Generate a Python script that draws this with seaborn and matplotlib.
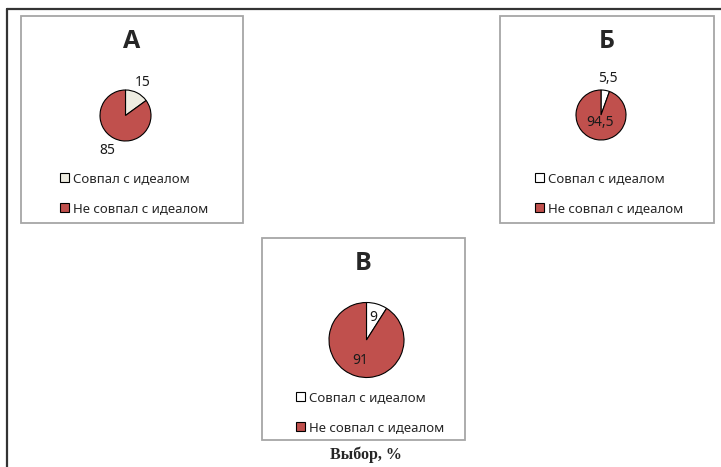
import numpy as np
import pandas as pd
import matplotlib
matplotlib.use("Agg")
import matplotlib.pyplot as plt
from matplotlib.patches import Rectangle
import seaborn as sns

# data
categories = ["Совпал с идеалом", "Не совпал с идеалом"]
panels = ["А", "Б", "В"]
values_a = [15, 85]
values_b = [5.5, 94.5]
values_v = [9, 91]
labels_a = ["15", "85"]
labels_b = ["5,5", "94,5"]
labels_v = ["9", "91"]
match_colors = ["#EEECE1", "#FFFFFF", "#FFFFFF"]
miss_color = "#C0504D"

sns.set_theme(style="white")
plt.rcParams["font.family"] = ["Noto Sans", "DejaVu Sans"]

W, H = 721, 467
fig = plt.figure(figsize=(W / 100, H / 100), dpi=100)


def fx(px):
    return px / W


def fy(py):
    return 1 - py / H


# outer frame (top and left only)
fig.add_artist(plt.Line2D([fx(7), fx(721)], [fy(9), fy(9)], color="#333333", lw=1.6))
fig.add_artist(plt.Line2D([fx(7), fx(7)], [fy(9), fy(467)], color="#333333", lw=1.6))

# layout of the three chart boxes (pixels)
layout = {
    "А": dict(box=(21, 16, 243, 223), center=(125.5, 115.5), r=25.5, title_y=42,
              leg=(60, 172), vals=values_a, labs=labels_a, rad=[1.45, 1.55], col=match_colors[0]),
    "Б": dict(box=(500, 16, 714, 223), center=(601, 115), r=25, title_y=42,
              leg=(535, 172), vals=values_b, labs=labels_b, rad=[1.5, 0.3], col=match_colors[1]),
    "В": dict(box=(262, 238, 465, 440), center=(366.5, 340), r=37.5, title_y=264,
              leg=(296, 391), vals=values_v, labs=labels_v, rad=[0.62, 0.58], col=match_colors[2]),
}

for name in panels:
    p = layout[name]
    x0, y0, x1, y1 = p["box"]
    fig.add_artist(Rectangle((fx(x0), fy(y1)), fx(x1 - x0), (y1 - y0) / H,
                             transform=fig.transFigure, fill=False,
                             edgecolor="#A6A6A6", lw=1.3))
    fig.text(fx((x0 + x1) / 2), fy(p["title_y"]), name, ha="center", va="center",
             fontsize=18, fontweight="bold", family=["Open Sans", "DejaVu Sans"])

    cx, cy, r = p["center"][0], p["center"][1], p["r"]
    ax = fig.add_axes([fx(cx - r), fy(cy + r), fx(2 * r), 2 * r / H])
    wedges, _ = ax.pie(p["vals"], colors=[p["col"], miss_color], startangle=90,
                       counterclock=False, radius=1,
                       wedgeprops=dict(edgecolor="black", linewidth=0.8))
    ax.set_xlim(-1, 1)
    ax.set_ylim(-1, 1)
    ax.axis("off")

    # data labels at the middle angle of each slice
    total = sum(p["vals"])
    start = 0
    for v, lab, rr in zip(p["vals"], p["labs"], p["rad"]):
        mid = np.deg2rad((start + v / 2) / total * 360)
        start += v
        ax.text(rr * np.sin(mid), rr * np.cos(mid), lab, ha="center", va="center",
                fontsize=10, color="#1a1a1a", clip_on=False)

    lx, ly = p["leg"]
    fig.legend(wedges, categories, loc="upper left",
               bbox_to_anchor=(fx(lx), fy(ly)), frameon=False, fontsize=9.5,
               handlelength=0.7, handleheight=0.7, handletextpad=0.3,
               labelspacing=1.3, borderpad=0, borderaxespad=0)

fig.text(fx(366), fy(455), "Выбор, %", ha="center", va="center", fontsize=11.5,
         fontweight="bold", family=["Liberation Serif", "DejaVu Serif"])

fig.savefig("out.png", dpi=100)
